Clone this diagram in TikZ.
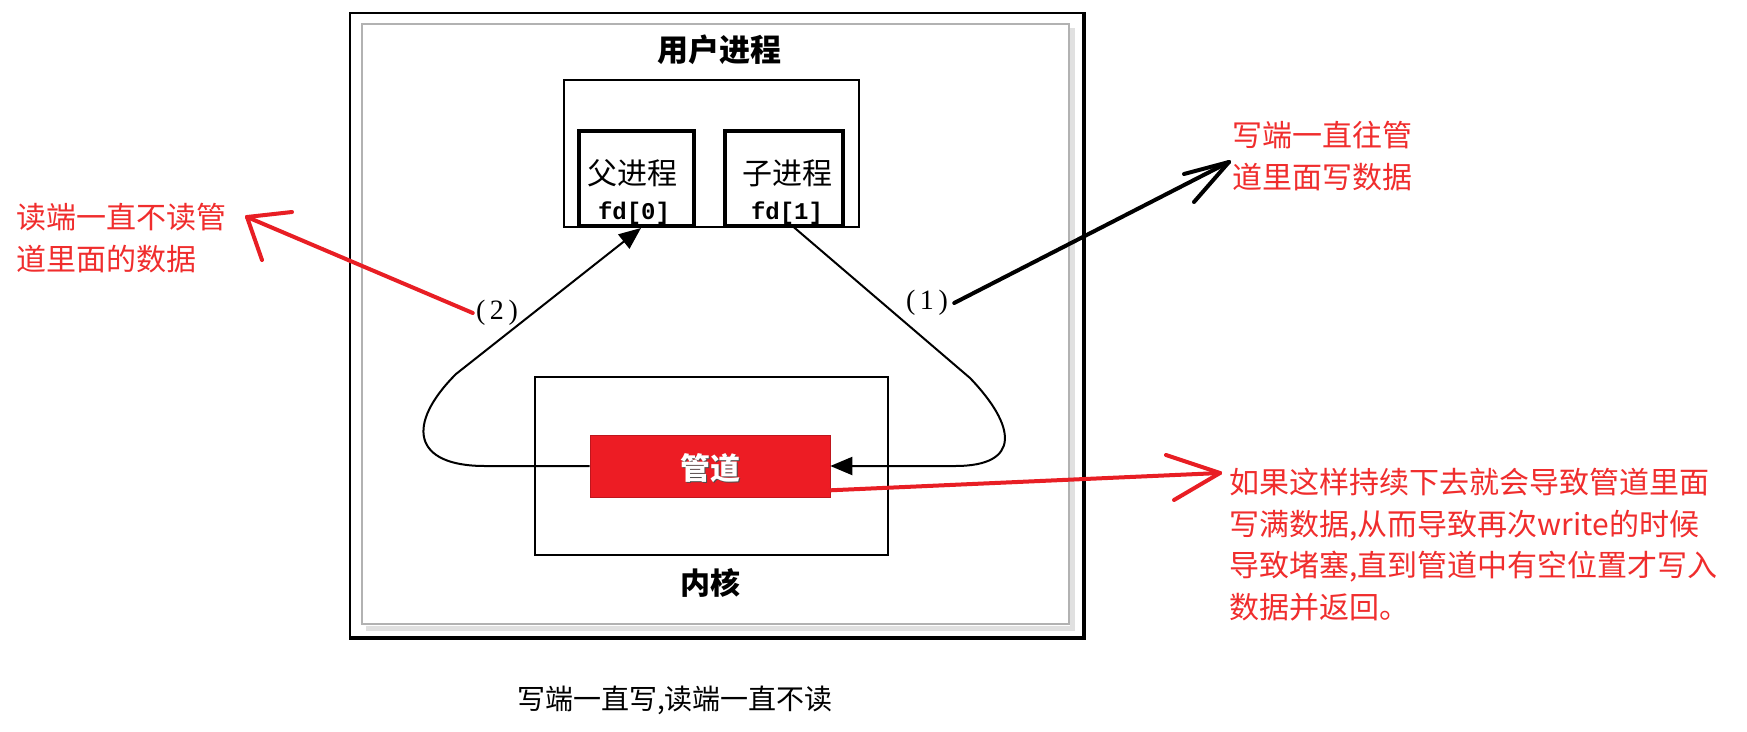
\documentclass[tikz,border=0pt]{standalone}
\usepackage{fontspec}
\setmainfont{Liberation Serif}
\newfontfamily\cjk{Noto Sans CJK SC}
\newfontfamily\monob{Liberation Mono}
\usetikzlibrary{arrows.meta}
\definecolor{redtext}{RGB}{240,45,45}
\definecolor{redline}{RGB}{232,30,36}
\definecolor{pipered}{RGB}{237,28,36}
\tikzset{
  thinbox/.style={draw=black, line width=1.5pt, inner sep=0pt},
  procbox/.style={draw=black, line width=3.5pt, inner sep=0pt},
  cjktext/.style={font=\cjk\fontsize{30}{40}\selectfont, inner sep=0pt},
  redlabel/.style={font=\cjk\fontsize{30}{41.5}\selectfont, text=redtext, align=left, inner sep=0pt},
  fdtext/.style={font=\monob\bfseries\fontsize{24}{24}\selectfont, inner sep=0pt},
  flow/.style={draw=black, line width=2pt},
  bigtip/.style={-{Triangle[length=22pt,width=18pt]}},
  redarrow/.style={draw=redline, line width=4pt, line cap=round},
  blackarrow/.style={draw=black, line width=4pt, line cap=round},
}
\begin{document}
\begin{tikzpicture}[x=1pt,y=-1pt]
\useasboundingbox (0,0) rectangle (1747,731);
\fill[white] (0,0) rectangle (1747,731);
% screenshot frame
\draw[black, line width=1.5pt] (350,13) rectangle (1084,637);
\draw[black, line width=3.5pt] (1084,12) -- (1084,638) -- (349,638);
\draw[black!12, line width=5pt] (366,628) -- (1072,628) -- (1072,28);
\draw[black!30, line width=1.2pt] (362,24) rectangle (1069,624);

% user process
\node[font=\cjk\bfseries\fontsize{31}{31}\selectfont, inner sep=0pt] (title) at (719,50) {用户进程};
\node[thinbox, minimum width=295pt, minimum height=147pt] (user) at (711.5,153.5) {};
\node[procbox, minimum width=115pt, minimum height=95pt] (parent) at (636.5,178.5) {};
\node[procbox, minimum width=118pt, minimum height=95pt] (child) at (784,178.5) {};
\node[cjktext] (ptext) at (632,173) {父进程};
\node[fdtext] (fd0) at (634,213) {fd[0]};
\node[cjktext] (ctext) at (787,173) {子进程};
\node[fdtext] (fd1) at (787,213) {fd[1]};

% kernel
\node[thinbox, minimum width=353pt, minimum height=178pt] (kernel) at (711.5,466) {};
\node[fill=pipered, draw=pipered!80!black, line width=0.6pt, minimum width=240pt, minimum height=62pt, inner sep=0pt] (pipe) at (710,466) {};
\node[font=\cjk\bfseries\fontsize{30}{30}\selectfont, text=black!70, inner sep=0pt] at (711.5,469.5) {管道};
\node[font=\cjk\bfseries\fontsize{30}{30}\selectfont, text=white, inner sep=0pt] (pipetext) at (710,468) {管道};
\node[font=\cjk\bfseries\fontsize{30}{30}\selectfont, inner sep=0pt] (ktext) at (710,583) {内核};

% flows
\coordinate (cbot) at (793,226.5);
\coordinate (ptip) at (641,228);
\draw[flow, bigtip] (cbot) -- (970,378) .. controls (1016,426) and (1022,466) .. (955,466) -- (pipe.east);
\draw[flow, bigtip] (pipe.west) -- (485,466) .. controls (412,466) and (406,424) .. (456,374) -- (ptip);

\node[font=\fontsize{28}{28}\selectfont, inner sep=0pt] (one) at (927,303) {(\,1\,)};
\node[font=\fontsize{28}{28}\selectfont, inner sep=0pt] (two) at (497,313) {(\,2\,)};

% annotations
\node[redlabel, anchor=west] (wtext) at (1232,156) {写端一直往管\\道里面写数据};
\node[redlabel, anchor=west] (rtext) at (16,238) {读端一直不读管\\道里面的数据};
\node[redlabel, anchor=west] (btext) at (1229,544.5) {如果这样持续下去就会导致管道里面\\写满数据,从而导致再次write的时候\\导致堵塞,直到管道中有空位置才写入\\数据并返回。};
\node[font=\cjk\fontsize{28}{28}\selectfont, inner sep=0pt] (caption) at (675,700) {写端一直写,读端一直不读};

% black hand-drawn arrow
\coordinate (btip) at (1229,162);
\draw[blackarrow] ([xshift=6pt]one.east) -- (btip);
\draw[blackarrow] (btip) -- (1184,174);
\draw[blackarrow] (btip) -- (1194,202);

% red hand-drawn arrows
\coordinate (ltip) at (247,217);
\draw[redarrow] ([xshift=-3pt]two.west) -- (ltip);
\draw[redarrow] (ltip) -- (292,212);
\draw[redarrow] (ltip) -- (262,260);

\coordinate (rtip) at (1220,473);
\draw[redarrow] ([yshift=7pt]pipe.south east) -- (rtip);
\draw[redarrow] (rtip) -- (1166,455);
\draw[redarrow] (rtip) -- (1174,500);
\end{tikzpicture}
\end{document}
